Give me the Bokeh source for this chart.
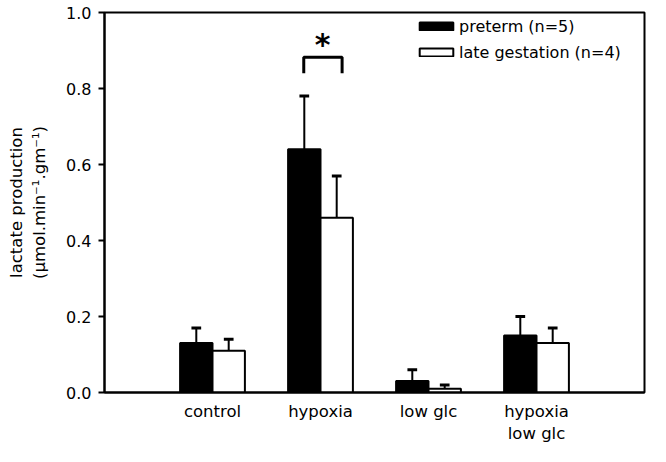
from bokeh.plotting import figure
from bokeh.models import (ColumnDataSource, FixedTicker, Legend, LegendItem,
                          NumeralTickFormatter)
from bokeh.embed import file_html
from bokeh.resources import INLINE
from bokeh.core.properties import value

# ---- data ----
categories = ["control", "hypoxia", "low glc", "hypoxia\nlow glc"]
preterm = [0.13, 0.64, 0.03, 0.15]
preterm_sem = [0.04, 0.14, 0.03, 0.05]
late = [0.11, 0.46, 0.01, 0.13]
late_sem = [0.03, 0.11, 0.01, 0.04]
series_labels = ["preterm (n=5)", "late gestation (n=4)"]
y_ticks = [0.0, 0.2, 0.4, 0.6, 0.8, 1.0]
y_label = "lactate production\n(\u00b5mol.min\u207b\u00b9.gm\u207b\u00b9)"
sig_category = 1          # hypoxia
sig_text = "*"
bracket_low, bracket_high = 0.84, 0.882
star_y = 0.915

FONT = "DejaVu Sans"
pos = [i + 1 for i in range(len(categories))]
bw = 0.3
off = 0.15
cap = 0.045

p = figure(width=650, height=446, x_range=(0, len(categories) + 1), y_range=(0, 1.0),
           output_backend="svg", toolbar_location=None,
           min_border_left=104, min_border_right=6, min_border_top=12, min_border_bottom=52)

p.background_fill_color = "white"
p.border_fill_color = "white"
p.outline_line_color = "black"
p.outline_line_width = 2
p.xgrid.visible = False
p.ygrid.visible = False

src_pre = ColumnDataSource(dict(x=[v - off for v in pos], top=preterm,
                                err=[a + b for a, b in zip(preterm, preterm_sem)]))
src_late = ColumnDataSource(dict(x=[v + off for v in pos], top=late,
                                 err=[a + b for a, b in zip(late, late_sem)]))

for src in (src_pre, src_late):
    p.segment(x0="x", y0="top", x1="x", y1="err", source=src, line_color="black", line_width=2)
    d = src.data
    p.segment(x0=[x - cap for x in d["x"]], y0=d["err"], x1=[x + cap for x in d["x"]], y1=d["err"],
              line_color="black", line_width=3)

r_pre = p.vbar(x="x", top="top", width=bw, source=src_pre, fill_color="black",
               line_color="black", line_width=2)
r_late = p.vbar(x="x", top="top", width=bw, source=src_late, fill_color="white",
                line_color="black", line_width=2)

# significance bracket
bx0 = pos[sig_category] - off - 0.005
bx1 = pos[sig_category] + off + 0.05
p.line(x=[bx0, bx0, bx1, bx1], y=[bracket_low, bracket_high, bracket_high, bracket_low],
       line_color="black", line_width=3)
p.text(x=[pos[sig_category] + 0.02], y=[star_y], text=[sig_text], text_align="center",
       text_baseline="alphabetic", text_font=value(FONT), text_font_style="bold",
       text_font_size="30px", text_color="black")

# axes
p.yaxis.ticker = FixedTicker(ticks=y_ticks)
p.yaxis.formatter = NumeralTickFormatter(format="0.0")
p.yaxis.axis_label = y_label
p.yaxis.axis_label_text_font = FONT
p.yaxis.axis_label_text_font_style = "normal"
p.yaxis.axis_label_text_font_size = "16.5px"
p.yaxis.axis_label_standoff = 14
p.yaxis.major_label_text_font = FONT
p.yaxis.major_label_text_font_size = "16px"
p.yaxis.major_label_standoff = 7
p.yaxis.major_tick_out = 6
p.yaxis.major_tick_in = 0
p.yaxis.minor_tick_line_color = None

p.xaxis.ticker = FixedTicker(ticks=pos)
p.xaxis.major_label_overrides = {v: c for v, c in zip(pos, categories)}
p.xaxis.major_label_text_font = FONT
p.xaxis.major_label_text_font_size = "16.5px"
p.xaxis.major_label_standoff = 9
p.xaxis.major_tick_out = 0
p.xaxis.major_tick_in = 0
p.xaxis.minor_tick_line_color = None

for ax in (p.xaxis, p.yaxis):
    ax.axis_line_width = 2
    ax.axis_line_color = "black"
    ax.major_tick_line_width = 2
    ax.major_tick_line_color = "black"
    ax.major_label_text_color = "black"
    ax.axis_label_text_color = "black"

legend = Legend(items=[LegendItem(label=series_labels[0], renderers=[r_pre]),
                       LegendItem(label=series_labels[1], renderers=[r_late])],
                location=(311, 330), padding=0, margin=0, spacing=6,
                glyph_width=42, glyph_height=10, label_standoff=2, label_height=20,
                label_text_font=FONT, label_text_font_size="16px",
                label_text_color="black",
                border_line_color=None, background_fill_alpha=0)
p.add_layout(legend)

open("out.html", "w").write(file_html(p, INLINE))
